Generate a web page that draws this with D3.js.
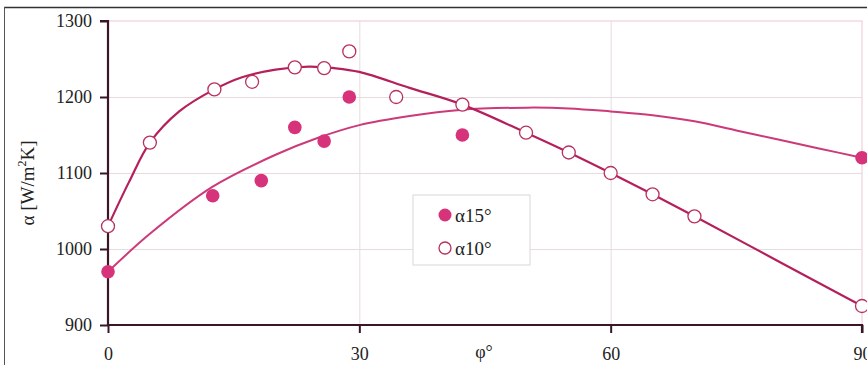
<!DOCTYPE html>
<html>
<head>
<meta charset="utf-8">
<script src="https://cdn.jsdelivr.net/npm/d3@7"></script>
<style>
  html, body { margin: 0; padding: 0; background: #fff; }
  svg { display: block; }
  text { font-family: 'Liberation Serif', 'DejaVu Serif', serif; fill: #222; }
</style>
</head>
<body>
<svg id="chart" width="867" height="365"></svg>
<script>
// ── Data ─────────────────────────────────────────────
const xTicks = [0, 30, 60, 90];
const yTicks = [900, 1000, 1100, 1200, 1300];

// measured points α15° (filled)
const pts15 = [
  [0, 970], [12.5, 1070], [18.3, 1090], [22.3, 1160], [25.8, 1142],
  [28.8, 1200], [42.3, 1150], [90, 1120]
];
// measured points α10° (hollow)
const pts10 = [
  [0, 1030], [5, 1140], [12.7, 1210], [17.2, 1220], [22.3, 1239], [25.8, 1238],
  [28.8, 1260], [34.4, 1200], [42.3, 1190], [49.9, 1153], [55, 1127],
  [60, 1100], [65, 1072], [70, 1043], [90, 925]
];
// fitted curve through α15°
const fit15 = [
  [0, 970], [5, 1020], [12.5, 1082], [20, 1124], [25, 1146], [30, 1163],
  [36, 1175], [42, 1183], [50, 1186], [55, 1185], [60, 1181], [65, 1176],
  [70, 1168], [75, 1156], [80, 1144], [85, 1132], [90, 1120]
];
// fitted curve through α10°
const fit10 = [
  [0, 1030], [2.5, 1088], [5, 1140], [8.5, 1181], [12.7, 1210], [16, 1226],
  [20, 1236], [24, 1240], [27, 1238], [30, 1233], [36, 1212], [42.3, 1190],
  [49.9, 1153], [55, 1127], [60, 1100], [65, 1072], [70, 1043], [80, 984], [90, 925]
];

// ── Layout ───────────────────────────────────────────
const svg = d3.select('#chart');
const M = { left: 108, right: 862, top: 21, bottom: 325 };
const x = d3.scaleLinear().domain([0, 90]).range([M.left, M.right]);
const y = d3.scaleLinear().domain([900, 1300]).range([M.bottom, M.top]);

const PINK = '#d6337a', LINE10 = '#b5205c', LINE15 = '#cc3a7a', AXIS = '#3a1626';

// outer frame (top + left edges visible)
svg.append('line').attr('x1', 4).attr('x2', 867).attr('y1', 7.5).attr('y2', 7.5)
  .attr('stroke', '#333').attr('stroke-width', 1.5);
svg.append('line').attr('x1', 4.5).attr('x2', 4.5).attr('y1', 7).attr('y2', 365)
  .attr('stroke', '#555').attr('stroke-width', 1);

// plot area border (light pink)
svg.append('rect')
  .attr('x', M.left).attr('y', M.top)
  .attr('width', M.right - M.left).attr('height', M.bottom - M.top)
  .attr('fill', '#fff').attr('stroke', '#ecc8d4').attr('stroke-width', 1);

// grid
const g = svg.append('g');
g.selectAll('line.hg').data(yTicks.slice(1, -1)).join('line')
  .attr('x1', M.left).attr('x2', M.right)
  .attr('y1', d => y(d) + 0.5).attr('y2', d => y(d) + 0.5)
  .attr('stroke', '#e6dce0').attr('stroke-width', 1);
g.selectAll('line.vg').data(xTicks.slice(1, -1)).join('line')
  .attr('y1', M.top).attr('y2', M.bottom)
  .attr('x1', d => x(d) + 0.5).attr('x2', d => x(d) + 0.5)
  .attr('stroke', '#e6dce0').attr('stroke-width', 1);

// axes
const yAxis = svg.append('g').attr('transform', `translate(${M.left},0)`)
  .call(d3.axisLeft(y).tickValues(yTicks).tickFormat(d3.format('d')).tickSize(8).tickPadding(8));
const xAxis = svg.append('g').attr('transform', `translate(0,${M.bottom})`)
  .call(d3.axisBottom(x).tickValues(xTicks).tickFormat(d3.format('d')).tickSize(8).tickPadding(14));
[yAxis, xAxis].forEach(a => {
  a.select('.domain').attr('stroke', AXIS).attr('stroke-width', 2.2);
  a.selectAll('.tick line').attr('stroke', AXIS).attr('stroke-width', 2);
  a.selectAll('.tick text').attr('font-family', "'Liberation Serif', serif")
    .attr('font-size', 18).attr('fill', '#222');
});
yAxis.select('.domain').attr('d', `M-8,${M.top}H0V${M.bottom}`);
xAxis.select('.domain').attr('d', `M${M.left},0H${M.right}V8`);

// axis titles
svg.append('text').attr('x', 484).attr('y', 358).attr('text-anchor', 'middle')
  .attr('font-size', 18).text('φ°');
const yl = svg.append('text')
  .attr('transform', 'translate(34,183) rotate(-90)')
  .attr('text-anchor', 'middle').attr('font-size', 19);
yl.append('tspan').text('α [W/m');
yl.append('tspan').attr('font-size', 12).attr('dy', -8).text('2');
yl.append('tspan').attr('dy', 8).text('K]');

// curves
const line = d3.line().x(d => x(d[0])).y(d => y(d[1])).curve(d3.curveCatmullRom.alpha(0.5));
svg.append('path').datum(fit15).attr('d', line)
  .attr('fill', 'none').attr('stroke', LINE15).attr('stroke-width', 2);
svg.append('path').datum(fit10).attr('d', line)
  .attr('fill', 'none').attr('stroke', LINE10).attr('stroke-width', 2.2);

// markers
svg.append('g').selectAll('circle').data(pts10).join('circle')
  .attr('cx', d => x(d[0])).attr('cy', d => y(d[1])).attr('r', 6.5)
  .attr('fill', '#fff').attr('stroke', '#b8305f').attr('stroke-width', 1.3);
svg.append('g').selectAll('circle').data(pts15).join('circle')
  .attr('cx', d => x(d[0])).attr('cy', d => y(d[1])).attr('r', 6.8)
  .attr('fill', PINK);

// legend
const leg = svg.append('g').attr('transform', 'translate(413,195)');
leg.append('rect').attr('width', 117).attr('height', 70)
  .attr('fill', '#fff').attr('stroke', '#d8d8d8').attr('stroke-width', 1);
leg.append('circle').attr('cx', 32).attr('cy', 20).attr('r', 6.5).attr('fill', PINK);
leg.append('circle').attr('cx', 32).attr('cy', 53).attr('r', 6)
  .attr('fill', '#fff').attr('stroke', '#b8305f').attr('stroke-width', 1.3);
leg.append('text').attr('x', 42).attr('y', 27).attr('font-size', 19).text('α15°');
leg.append('text').attr('x', 42).attr('y', 60).attr('font-size', 19).text('α10°');
</script>
</body>
</html>
